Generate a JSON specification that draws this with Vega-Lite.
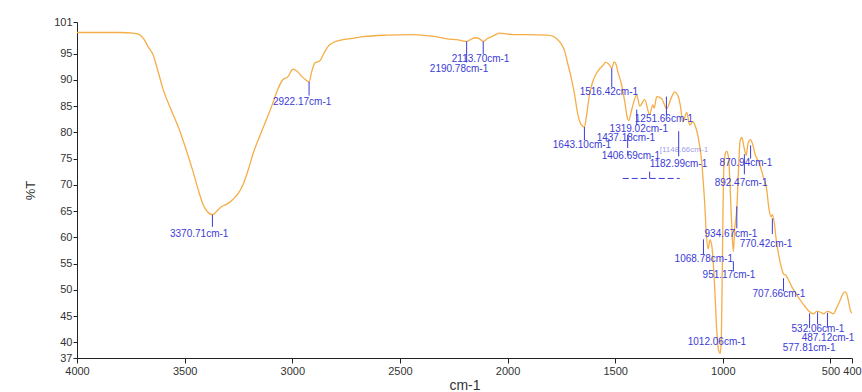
{
  "$schema": "https://vega.github.io/schema/vega-lite/v6.json",
  "autosize": {"type": "none"},
  "padding": {"left": 77, "top": 22, "right": 10, "bottom": 34},
  "width": 775,
  "height": 336,
  "background": "white",
  "config": {"view": {"stroke": null}, "font": "Liberation Sans", "axis": {"labelOverlap": false, "grid": false}},
  "datasets": {
    "spectrum": [
      {"wn":4000,"t":99.0},{"wn":3900,"t":99.0},{"wn":3800,"t":99.0},{"wn":3740,"t":98.9},{"wn":3710,"t":98.6},{"wn":3690,"t":97.8},{"wn":3670,"t":96.3},{"wn":3647,"t":94.8},{"wn":3625,"t":91.8},{"wn":3601,"t":88.3},{"wn":3560,"t":84.0},{"wn":3522,"t":80.2},{"wn":3490,"t":76.3},{"wn":3461,"t":72.5},{"wn":3435,"t":68.8},{"wn":3415,"t":66.3},{"wn":3395,"t":64.9},{"wn":3371,"t":64.3},{"wn":3350,"t":65.0},{"wn":3330,"t":65.8},{"wn":3300,"t":66.4},{"wn":3276,"t":67.2},{"wn":3250,"t":68.4},{"wn":3229,"t":70.0},{"wn":3205,"t":72.8},{"wn":3183,"t":75.8},{"wn":3150,"t":79.4},{"wn":3118,"t":82.6},{"wn":3090,"t":85.6},{"wn":3071,"t":87.8},{"wn":3044,"t":90.0},{"wn":3020,"t":90.6},{"wn":2997,"t":92.0},{"wn":2980,"t":91.7},{"wn":2955,"t":90.6},{"wn":2935,"t":89.9},{"wn":2922,"t":89.6},{"wn":2910,"t":91.5},{"wn":2895,"t":93.2},{"wn":2872,"t":93.6},{"wn":2850,"t":95.3},{"wn":2825,"t":96.7},{"wn":2780,"t":97.5},{"wn":2720,"t":97.9},{"wn":2672,"t":98.2},{"wn":2560,"t":98.5},{"wn":2440,"t":98.6},{"wn":2350,"t":98.3},{"wn":2282,"t":97.8},{"wn":2230,"t":97.6},{"wn":2190,"t":97.3},{"wn":2170,"t":97.7},{"wn":2150,"t":98.0},{"wn":2130,"t":97.8},{"wn":2113,"t":97.3},{"wn":2095,"t":97.8},{"wn":2060,"t":98.5},{"wn":2036,"t":98.9},{"wn":2000,"t":98.7},{"wn":1976,"t":98.6},{"wn":1900,"t":98.6},{"wn":1818,"t":98.5},{"wn":1790,"t":98.3},{"wn":1772,"t":97.8},{"wn":1750,"t":96.8},{"wn":1735,"t":95.5},{"wn":1720,"t":93.0},{"wn":1705,"t":90.5},{"wn":1690,"t":87.5},{"wn":1674,"t":83.5},{"wn":1660,"t":81.6},{"wn":1643,"t":81.0},{"wn":1632,"t":83.5},{"wn":1620,"t":87.0},{"wn":1609,"t":89.0},{"wn":1590,"t":91.0},{"wn":1572,"t":92.1},{"wn":1555,"t":92.8},{"wn":1545,"t":93.3},{"wn":1530,"t":93.0},{"wn":1516,"t":92.2},{"wn":1505,"t":93.4},{"wn":1495,"t":92.8},{"wn":1488,"t":91.6},{"wn":1470,"t":89.0},{"wn":1456,"t":85.9},{"wn":1442,"t":82.5},{"wn":1437,"t":82.2},{"wn":1424,"t":84.2},{"wn":1400,"t":87.1},{"wn":1386,"t":85.0},{"wn":1363,"t":86.2},{"wn":1340,"t":83.4},{"wn":1325,"t":85.2},{"wn":1319,"t":84.6},{"wn":1307,"t":86.8},{"wn":1284,"t":86.4},{"wn":1261,"t":84.5},{"wn":1240,"t":86.5},{"wn":1224,"t":87.7},{"wn":1210,"t":87.1},{"wn":1195,"t":84.5},{"wn":1187,"t":82.0},{"wn":1182,"t":82.2},{"wn":1168,"t":83.8},{"wn":1154,"t":81.4},{"wn":1140,"t":82.0},{"wn":1125,"t":80.8},{"wn":1117,"t":79.6},{"wn":1108,"t":77.5},{"wn":1098,"t":74.4},{"wn":1090,"t":70.0},{"wn":1084,"t":66.3},{"wn":1078,"t":61.5},{"wn":1068,"t":57.8},{"wn":1060,"t":59.5},{"wn":1052,"t":58.6},{"wn":1045,"t":55.5},{"wn":1038,"t":50.5},{"wn":1030,"t":43.5},{"wn":1020,"t":38.5},{"wn":1012,"t":37.9},{"wn":1007,"t":40.5},{"wn":1003,"t":52.0},{"wn":999,"t":66.0},{"wn":995,"t":73.5},{"wn":988,"t":76.0},{"wn":982,"t":76.4},{"wn":973,"t":75.0},{"wn":966,"t":69.5},{"wn":958,"t":61.5},{"wn":951,"t":57.3},{"wn":945,"t":61.5},{"wn":935,"t":65.5},{"wn":928,"t":72.0},{"wn":920,"t":78.3},{"wn":912,"t":79.0},{"wn":902,"t":77.2},{"wn":892,"t":75.6},{"wn":882,"t":78.0},{"wn":872,"t":78.6},{"wn":860,"t":77.5},{"wn":850,"t":75.8},{"wn":829,"t":73.9},{"wn":810,"t":71.2},{"wn":797,"t":69.3},{"wn":785,"t":65.2},{"wn":776,"t":63.9},{"wn":770,"t":64.3},{"wn":762,"t":63.0},{"wn":752,"t":59.5},{"wn":740,"t":56.5},{"wn":727,"t":54.1},{"wn":718,"t":53.0},{"wn":708,"t":52.8},{"wn":699,"t":52.2},{"wn":680,"t":50.6},{"wn":657,"t":49.1},{"wn":640,"t":48.0},{"wn":620,"t":46.9},{"wn":600,"t":45.9},{"wn":578,"t":45.4},{"wn":565,"t":45.9},{"wn":550,"t":45.8},{"wn":532,"t":45.4},{"wn":515,"t":45.9},{"wn":500,"t":45.7},{"wn":487,"t":45.4},{"wn":472,"t":46.5},{"wn":455,"t":48.0},{"wn":444,"t":49.1},{"wn":432,"t":49.6},{"wn":425,"t":49.3},{"wn":415,"t":47.5},{"wn":405,"t":45.8},{"wn":400,"t":45.6}
    ],
    "peaks": [
      {"label":"3370.71cm-1","lx":3568,"ly":60.7,"px":3371,"y1":64.3,"y2":62.0},
      {"label":"2922.17cm-1","lx":3090,"ly":85.7,"px":2922,"y1":89.6,"y2":87.0},
      {"label":"2113.70cm-1","lx":2259,"ly":94.0,"px":2113,"y1":97.3,"y2":94.9},
      {"label":"2190.78cm-1","lx":2361,"ly":92.1,"px":2190,"y1":97.3,"y2":93.3},
      {"label":"1516.42cm-1","lx":1665,"ly":87.6,"px":1516,"y1":92.2,"y2":88.6},
      {"label":"1643.10cm-1","lx":1790,"ly":77.5,"px":1643,"y1":81.0,"y2":78.5},
      {"label":"1251.66cm-1","lx":1409,"ly":82.6,"px":1262,"y1":86.8,"y2":83.2},
      {"label":"1319.02cm-1","lx":1526,"ly":80.7,"px":1400,"y1":84.3,"y2":81.3},
      {"label":"1437.18cm-1","lx":1586,"ly":79.0,"px":1442,"y1":79.5,"y2":77.0},
      {"label":"1406.69cm-1","lx":1563,"ly":75.4,"px":1442,"y1":76.5,"y2":75.6},
      {"label":"1182.99cm-1","lx":1340,"ly":73.9,"px":1205,"y1":80.2,"y2":75.4},
      {"label":"870.94cm-1","lx":1015,"ly":74.1,"px":871,"y1":77.5,"y2":75.0},
      {"label":"892.47cm-1","lx":1038,"ly":70.4,"px":900,"y1":75.8,"y2":72.0},
      {"label":"934.67cm-1","lx":1085,"ly":60.7,"px":935,"y1":65.9,"y2":61.7},
      {"label":"770.42cm-1","lx":922,"ly":58.8,"px":770,"y1":63.6,"y2":60.6},
      {"label":"1068.78cm-1","lx":1224,"ly":55.8,"px":1090,"y1":59.6,"y2":56.7},
      {"label":"951.17cm-1","lx":1094,"ly":52.9,"px":951,"y1":55.4,"y2":53.5},
      {"label":"707.66cm-1","lx":862,"ly":49.1,"px":718,"y1":52.2,"y2":49.7},
      {"label":"1012.06cm-1","lx":1163,"ly":40.0,"px":1012,"y1":40.5,"y2":40.5},
      {"label":"532.06cm-1","lx":681,"ly":42.5,"px":560,"y1":45.7,"y2":43.4},
      {"label":"487.12cm-1","lx":634,"ly":40.8,"px":514,"y1":45.6,"y2":42.8},
      {"label":"577.81cm-1","lx":722,"ly":39.0,"px":597,"y1":45.5,"y2":42.7}
    ]
  },
  "layer": [
    {
      "data": {"name": "spectrum"},
      "mark": {"type": "line", "color": "#f5ad48", "strokeWidth": 1.3, "interpolate": "monotone"},
      "encoding": {
        "x": {"field": "wn", "type": "quantitative",
              "scale": {"domain": [400, 4000], "reverse": true, "nice": false, "zero": false},
              "axis": {"title": "cm-1", "values": [4000, 3500, 3000, 2500, 2000, 1500, 1000, 500, 400],
                       "tickCount": 30, "format": "d", "grid": false, "labelOverlap": false, "labelFlush": false,
                       "domainColor": "#222", "tickColor": "#222", "tickSize": 5, "labelFontSize": 11,
                       "labelColor": "#333", "titleFontSize": 14, "titleFontWeight": "normal", "titleColor": "#333", "titlePadding": 2}},
        "y": {"field": "t", "type": "quantitative",
              "scale": {"domain": [37, 101], "nice": false, "zero": false},
              "axis": {"title": "%T", "values": [37, 40, 45, 50, 55, 60, 65, 70, 75, 80, 85, 90, 95, 101],
                       "tickCount": 30, "grid": false, "labelOverlap": false, "domainColor": "#222", "tickColor": "#222", "tickSize": 4,
                       "labelFontSize": 11, "labelColor": "#333", "titleFontSize": 13, "titleFontWeight": "normal",
                       "titleColor": "#333", "titlePadding": 16, "labelPadding": 1}}
      }
    },
    {
      "data": {"name": "peaks"},
      "mark": {"type": "rule", "color": "#3b3bd6", "strokeWidth": 1},
      "encoding": {
        "x": {"field": "px", "type": "quantitative"},
        "y": {"field": "y1", "type": "quantitative"},
        "y2": {"field": "y2"}
      }
    },
    {
      "data": {"name": "peaks"},
      "mark": {"type": "text", "color": "#3b3bd6", "fontSize": 10, "align": "left", "baseline": "middle"},
      "encoding": {
        "x": {"field": "lx", "type": "quantitative"},
        "y": {"field": "ly", "type": "quantitative"},
        "text": {"field": "label"}
      }
    },
    {
      "data": {"values": [{"a": 1465, "b": 1200, "y": 71.2}]},
      "mark": {"type": "rule", "color": "#3b3bd6", "strokeWidth": 1, "strokeDash": [6, 3]},
      "encoding": {
        "x": {"field": "a", "type": "quantitative"},
        "x2": {"field": "b"},
        "y": {"field": "y", "type": "quantitative"}
      }
    },
    {
      "data": {"values": [{"x": 1340, "y1": 72.5, "y2": 71.2}]},
      "mark": {"type": "rule", "color": "#3b3bd6", "strokeWidth": 1},
      "encoding": {
        "x": {"field": "x", "type": "quantitative"},
        "y": {"field": "y1", "type": "quantitative"},
        "y2": {"field": "y2"}
      }
    },
    {
      "data": {"values": [{"label": "[1148.66cm-1", "x": 1293, "y": 76.7}]},
      "mark": {"type": "text", "color": "#3b3bd6", "fontSize": 8, "opacity": 0.5, "align": "left", "baseline": "middle"},
      "encoding": {
        "x": {"field": "x", "type": "quantitative"},
        "y": {"field": "y", "type": "quantitative"},
        "text": {"field": "label"}
      }
    }
  ]
}
